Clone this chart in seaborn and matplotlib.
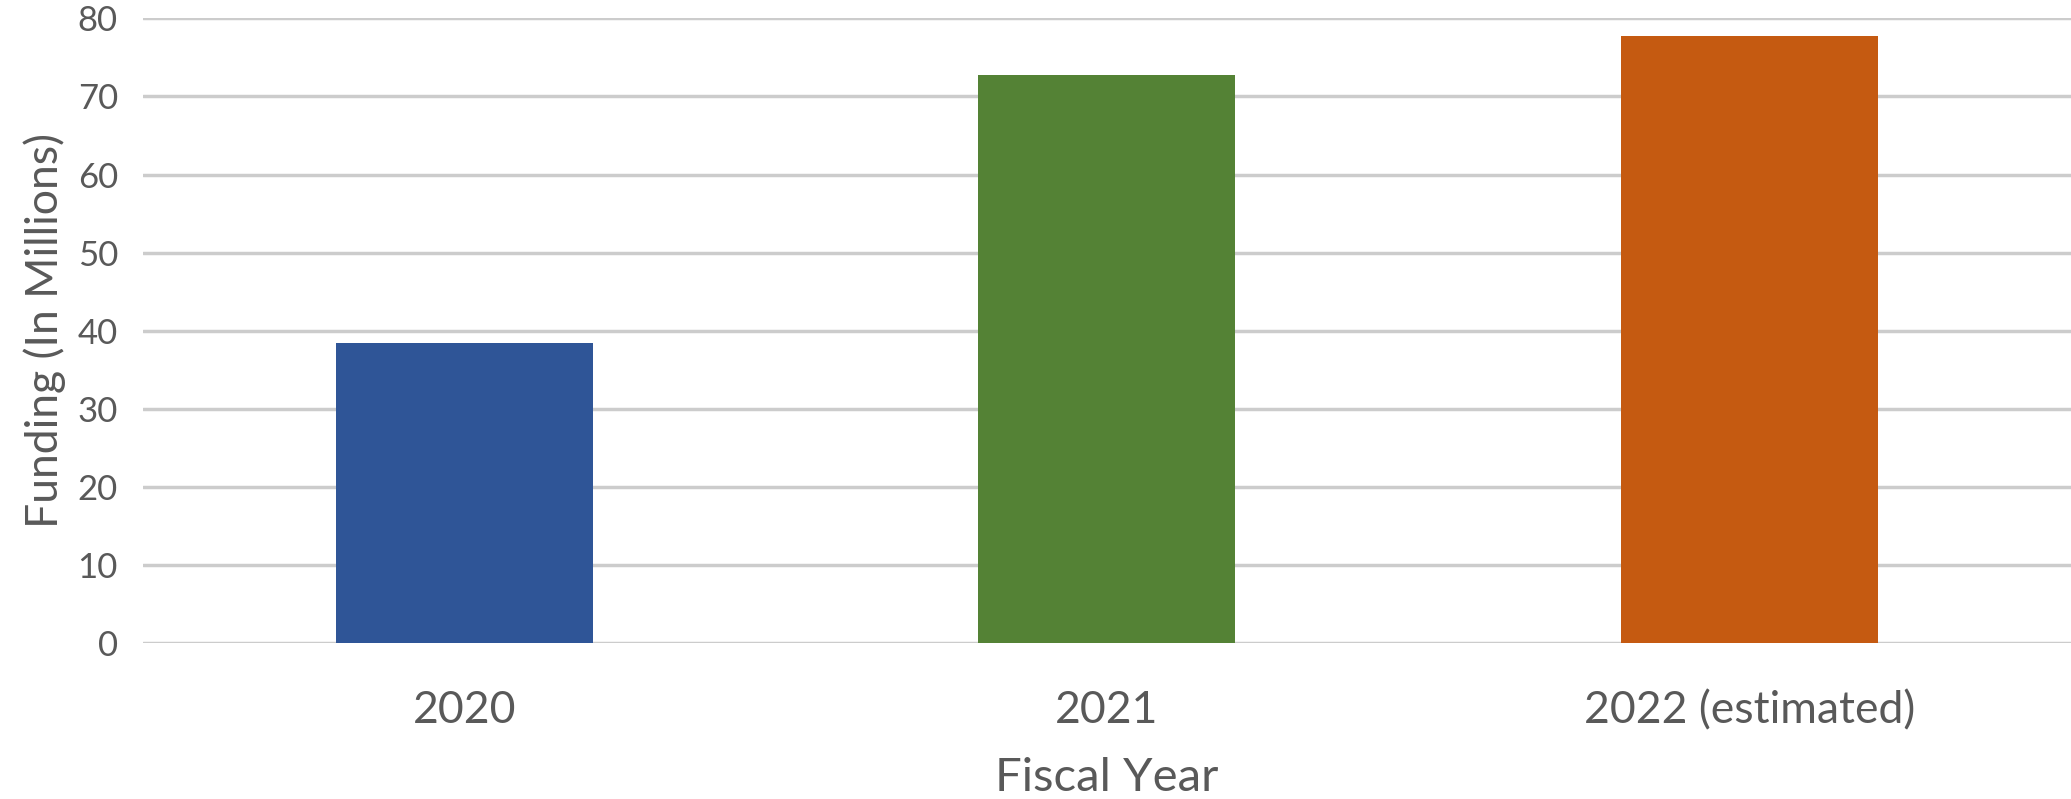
import matplotlib
matplotlib.use("Agg")
import matplotlib.pyplot as plt
import seaborn as sns
import pandas as pd

# values
years = ["2020", "2021", "2022 (estimated)"]
funding = [38.4, 72.8, 77.7]
bar_colors = ["#2f5597", "#548235", "#c55a11"]
y_ticks = [0, 10, 20, 30, 40, 50, 60, 70, 80]

df = pd.DataFrame({"year": years, "funding": funding})

sns.set_theme(style="white")
plt.rcParams["font.family"] = ["Lato", "DejaVu Sans"]
text_color = "#595959"

fig = plt.figure(figsize=(20.71, 7.99), dpi=100)
ax = fig.add_axes([0.069, 0.195, 0.931, 0.782])

sns.barplot(data=df, x="year", y="funding", hue="year", palette=bar_colors,
            saturation=1, width=0.4, legend=False, ax=ax, zorder=3,
            edgecolor="none")

ax.set_ylim(0, 80)
ax.set_xlim(-0.5, 2.5)
ax.set_yticks(y_ticks)
ax.yaxis.grid(True, color="#cccccc", linewidth=2.5, zorder=0)
ax.set_axisbelow(True)
for s in ax.spines.values():
    s.set_visible(False)
ax.tick_params(axis="y", length=0, pad=18, labelsize=25, labelcolor=text_color)
ax.tick_params(axis="x", length=0, pad=34, labelsize=32, labelcolor=text_color)

ax.set_xlabel("Fiscal Year", fontsize=34, color=text_color, labelpad=18)
ax.set_ylabel("Funding (In Millions)", fontsize=32, color=text_color, labelpad=8)

fig.savefig("out.png", dpi=100, facecolor="white")
